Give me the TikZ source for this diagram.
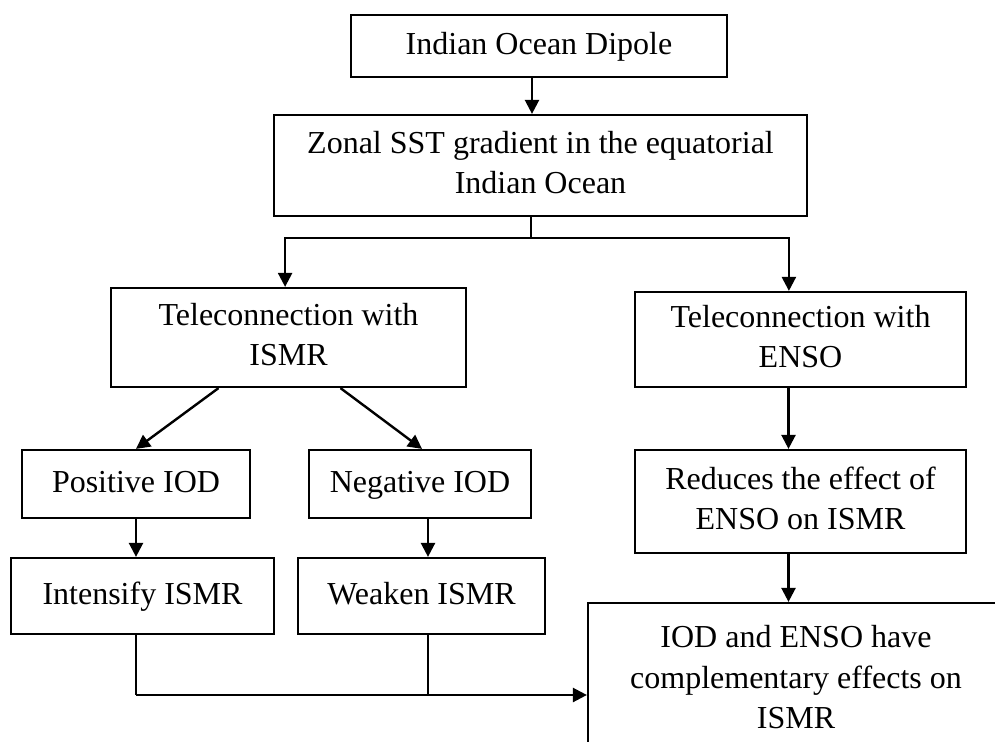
\documentclass[tikz,border=0pt]{standalone}
\usepackage{fontspec}
\setmainfont{Liberation Serif}
\usetikzlibrary{arrows.meta}
\begin{document}
\begin{tikzpicture}[x=0.5pt,y=-0.5pt,
  box/.style={draw, line width=1.1pt, align=center, inner sep=0pt,
              font=\fontsize{16}{20.3}\selectfont},
  arr/.style={line width=1.2pt, -{Triangle[length=7pt,width=7pt]}},
  ln/.style={line width=1.2pt}]
\useasboundingbox (0,0) rectangle (995,742);
\clip (0,0) rectangle (995,742);
% boxes
\node[box, minimum width=188pt, minimum height=31pt] (b1) at (539,46) {Indian Ocean Dipole\strut};
\node[box, minimum width=266.5pt, minimum height=50.5pt] (b2) at (540.5,165.5) {Zonal SST gradient in the equatorial\strut\\Indian Ocean\strut};
\node[box, minimum width=177.5pt, minimum height=49.5pt] (b3) at (288.5,337.5) {Teleconnection with\strut\\ISMR\strut};
\node[box, minimum width=165.5pt, minimum height=47.5pt] (b4) at (800.5,339.5) {Teleconnection with\strut\\ENSO\strut};
\node[box, minimum width=114pt, minimum height=34pt] (b5) at (136,484) {Positive IOD\strut};
\node[box, minimum width=111pt, minimum height=34pt] (b6) at (420,484) {Negative IOD\strut};
\node[box, minimum width=165.5pt, minimum height=51.5pt] (b7) at (800.5,501.5) {Reduces the effect of\strut\\ENSO on ISMR\strut};
\node[box, minimum width=131.5pt, minimum height=38pt] (b8) at (142.5,596) {Intensify ISMR\strut};
\node[box, minimum width=123.5pt, minimum height=38pt] (b9) at (421.5,596) {Weaken ISMR\strut};
\node[box, minimum width=208pt, minimum height=77pt] (b10) at (796,680) {IOD and ENSO have\strut\\complementary effects on\strut\\ISMR\strut};
% connectors
\draw[arr] ([xshift=-3.5pt]b1.south) -- ([xshift=-3.5pt]b1.south |- b2.north);
\coordinate (j) at (531,238);
\draw[ln] (b2.south -| j) -- (j);
\draw[arr] (j) -| ([xshift=-1.7pt]b3.north);
\draw[arr] (j) -| ([xshift=-5.8pt]b4.north);
\draw[arr] ([xshift=-35pt]b3.south) -- (b5.north);
\draw[arr] ([xshift=26pt]b3.south) -- ([xshift=1pt]b6.north);
\draw[arr] (b5.south) -- (b5.south |- b8.north);
\draw[arr] ([xshift=4pt]b6.south) -- ([xshift=4pt]b6.south |- b9.north);
\draw[arr] ([xshift=-6pt]b4.south) -- ([xshift=-6pt]b4.south |- b7.north);
\draw[arr] ([xshift=-6pt]b7.south) -- ([xshift=-6pt]b7.south |- b10.north);
\coordinate (w) at ([yshift=-7.5pt]b10.west);
\coordinate (m) at (b5.south |- w);
\draw[ln] (b5.south |- b8.south) -- (m);
\draw[arr] (m) -- (w);
\draw[ln] ([xshift=4pt]b6.south |- b9.south) -- ([xshift=4pt]b6.south |- w);
\end{tikzpicture}
\end{document}
